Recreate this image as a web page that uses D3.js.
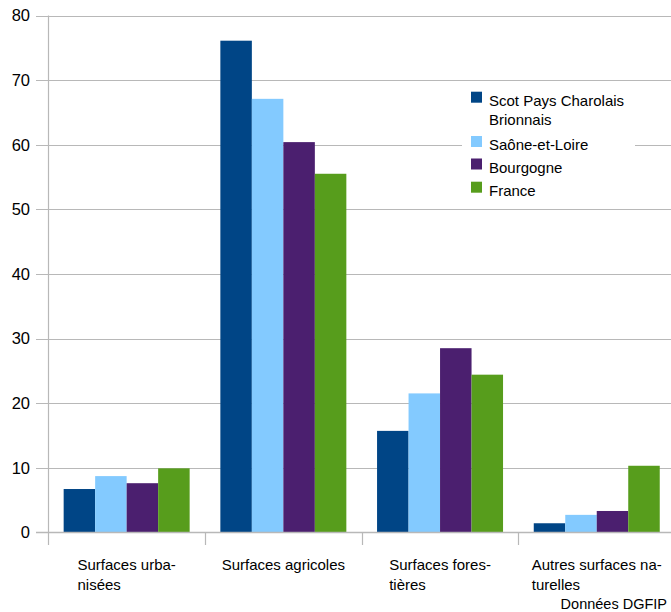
<!DOCTYPE html>
<html>
<head>
<meta charset="utf-8">
<script src="https://cdn.jsdelivr.net/npm/d3@7"></script>
<style>
  html, body { margin: 0; padding: 0; background: #fff; }
  svg { display: block; font-family: "Liberation Sans", Arial, sans-serif; }
</style>
</head>
<body>
<svg id="chart" width="671" height="612"></svg>
<script>
// Land use shares (%) by territory
const categories = [
  ["Surfaces urba-", "nisées"],
  ["Surfaces agricoles"],
  ["Surfaces fores-", "tières"],
  ["Autres surfaces na-", "turelles"]
];
const categoryKeys = ["urbanisees", "agricoles", "forestieres", "naturelles"];
const seriesNames = ["Scot Pays Charolais Brionnais", "Saône-et-Loire", "Bourgogne", "France"];
const legendLines = [["Scot Pays Charolais", "Brionnais"], ["Saône-et-Loire"], ["Bourgogne"], ["France"]];
const scotValues = [6.7, 76.1, 15.7, 1.4];
const saoneValues = [8.7, 67.1, 21.5, 2.7];
const bourgogneValues = [7.6, 60.4, 28.5, 3.3];
const franceValues = [9.9, 55.5, 24.4, 10.3];
const yTicks = [0, 10, 20, 30, 40, 50, 60, 70, 80];
const colors = ["#004586", "#83caff", "#4b1f6f", "#579d1c"];
const sourceText = "Données DGFIP";

const seriesValues = [scotValues, saoneValues, bourgogneValues, franceValues];

const svg = d3.select("#chart");
const axisX = 48.3, bandW = 156.7;
const y0 = 532.3, yTop = 15.5;

const x0 = d3.scaleBand().domain(categoryKeys).range([axisX, axisX + bandW * 4]).padding(0);
const pad = bandW * 0.098;
const x1 = d3.scaleBand().domain(seriesNames).range([pad, bandW - pad]).padding(0);
const y = d3.scaleLinear().domain([0, 80]).range([y0, yTop]);

// horizontal gridlines with left ticks
const gridColor = "#b8b8b8";
const grid = svg.append("g");
grid.selectAll("line").data(yTicks).join("line")
  .attr("x1", 36).attr("x2", 671)
  .attr("y1", d => Math.round(y(d)) + 0.5).attr("y2", d => Math.round(y(d)) + 0.5)
  .attr("stroke", gridColor).attr("stroke-width", 1.2);

// y tick labels
svg.append("g").selectAll("text").data(yTicks).join("text")
  .attr("x", 30).attr("y", d => y(d))
  .attr("dy", "0.36em")
  .attr("text-anchor", "end")
  .attr("font-size", 16.5)
  .attr("fill", "#000")
  .text(d => d);

// bars
const groups = svg.append("g").selectAll("g").data(categoryKeys).join("g")
  .attr("transform", d => `translate(${x0(d)},0)`);
groups.selectAll("rect")
  .data((d, i) => seriesNames.map((s, j) => ({ s, j, v: seriesValues[j][i] })))
  .join("rect")
  .attr("x", d => x1(d.s))
  .attr("width", x1.bandwidth())
  .attr("y", d => y(d.v))
  .attr("height", d => y(0) - y(d.v))
  .attr("fill", d => colors[d.j]);

// axes lines
svg.append("line")
  .attr("x1", Math.round(axisX) + 0.5).attr("x2", Math.round(axisX) + 0.5)
  .attr("y1", y(80)).attr("y2", 545)
  .attr("stroke", gridColor).attr("stroke-width", 1.2);
svg.append("line")
  .attr("x1", 36).attr("x2", 671)
  .attr("y1", Math.round(y0) + 0.5).attr("y2", Math.round(y0) + 0.5)
  .attr("stroke", gridColor).attr("stroke-width", 1.4);
svg.append("g").selectAll("line").data(d3.range(1, 5)).join("line")
  .attr("x1", i => Math.round(axisX + bandW * i) + 0.5)
  .attr("x2", i => Math.round(axisX + bandW * i) + 0.5)
  .attr("y1", y0).attr("y2", 545)
  .attr("stroke", gridColor).attr("stroke-width", 1.2);

// category labels: lines left-aligned, block centred on the band
categories.forEach((lines, i) => {
  const cx = x0(categoryKeys[i]) + bandW / 2;
  const t = svg.append("text")
    .attr("font-size", 15)
    .attr("fill", "#000");
  lines.forEach((ln, k) => {
    t.append("tspan").attr("x", 0).attr("y", 570 + k * 20).text(ln);
  });
  const w = d3.max(t.selectAll("tspan").nodes(), n => n.getComputedTextLength());
  t.selectAll("tspan").attr("x", cx - w / 2);
});

// legend with white background
const legend = svg.append("g");
legend.append("rect")
  .attr("x", 462).attr("y", 86).attr("width", 173).attr("height", 114)
  .attr("fill", "#fff");
const rowTops = [91.7, 136, 158.5, 181.7];
legendLines.forEach((lines, i) => {
  legend.append("rect")
    .attr("x", 471).attr("y", rowTops[i]).attr("width", 11).attr("height", 11)
    .attr("fill", colors[i]);
  lines.forEach((ln, k) => {
    legend.append("text")
      .attr("x", 489).attr("y", rowTops[i] + 14 + k * 19.5)
      .attr("font-size", 15)
      .attr("fill", "#000")
      .text(ln);
  });
});

// source note
svg.append("text")
  .attr("x", 667).attr("y", 609)
  .attr("text-anchor", "end")
  .attr("font-size", 14.5)
  .attr("fill", "#000")
  .text(sourceText);
</script>
</body>
</html>
